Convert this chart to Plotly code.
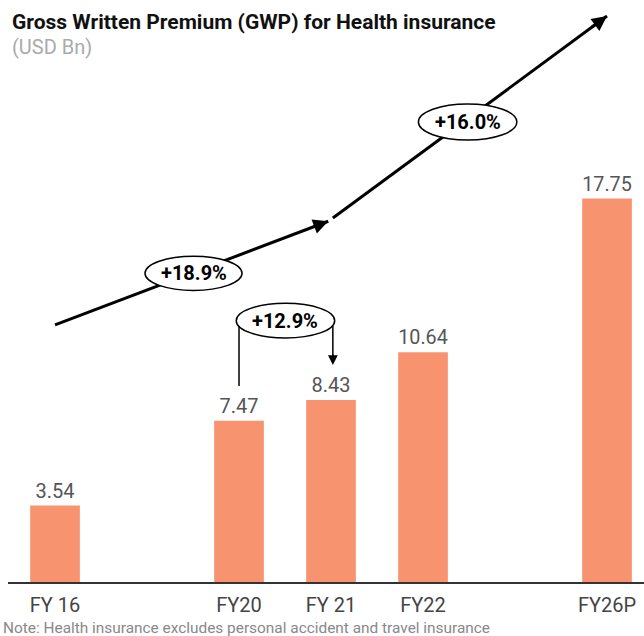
import plotly.graph_objects as go

categories = ["FY 16", "FY20", "FY 21", "FY22", "FY26P"]
slots = [0, 2, 3, 4, 6]
values = [3.54, 7.47, 8.43, 10.64, 17.75]
value_labels = ["3.54", "7.47", "8.43", "10.64", "17.75"]
growth_labels = ["+18.9%", "+12.9%", "+16.0%"]

BAR = "#F8936F"
fig = go.Figure()
fig.add_trace(go.Bar(
    x=slots, y=values, width=0.54, marker=dict(color=BAR, line=dict(width=0)),
    text=value_labels, textposition="outside", cliponaxis=False,
    textfont=dict(family="Roboto", size=20, color="#555555"),
    hoverinfo="skip",
))

shapes = []
ann = []
# trend line segments (data coords)
seg1 = (0.0, 11.9, 2.97, 16.7)
seg2 = (3.02, 16.85, 6.0, 26.2)
for (x0, y0, x1, y1) in (seg1, seg2):
    shapes.append(dict(type="line", xref="x", yref="y", x0=x0, y0=y0, x1=x1, y1=y1,
                       line=dict(color="black", width=3), layer="above"))
    dx, dy = x1 - x0, y1 - y0
    f = 0.06
    ann.append(dict(x=x1, y=y1, ax=x1 - dx * f, ay=y1 - dy * f, xref="x", yref="y",
                    axref="x", ayref="y", showarrow=True, arrowhead=2, arrowsize=1,
                    arrowwidth=3, arrowcolor="black", text=""))

# bracket for FY20 -> FY21
shapes.append(dict(type="line", xref="x", yref="y", x0=2.0, x1=2.0, y0=11.85, y1=9.07,
                   line=dict(color="black", width=1.5), layer="above"))
shapes.append(dict(type="line", xref="x", yref="y", x0=3.02, x1=3.02, y0=11.85, y1=10.4,
                   line=dict(color="black", width=1.5), layer="above"))
ann.append(dict(x=3.02, y=10.05, ax=3.02, ay=10.6, xref="x", yref="y", axref="x", ayref="y",
                showarrow=True, arrowhead=2, arrowsize=1.3, arrowwidth=1.5,
                arrowcolor="black", text=""))

ellipses = [
    (0.978, 2.033, 13.5, 15.08),
    (1.97, 3.04, 11.3, 12.9),
    (3.95, 5.02, 20.46, 22.13),
]
for (x0, x1, y0, y1), lab in zip(ellipses, growth_labels):
    shapes.append(dict(type="circle", xref="x", yref="y", x0=x0, x1=x1, y0=y0, y1=y1,
                       fillcolor="white", line=dict(color="black", width=1.5), layer="above"))
    ann.append(dict(x=(x0 + x1) / 2, y=(y0 + y1) / 2, xref="x", yref="y", text="<b>" + lab + "</b>",
                    showarrow=False, font=dict(family="Roboto", size=20, color="black")))

# titles and note
ann.append(dict(x=0.003, y=0.979, xref="paper", yref="paper", xanchor="left", yanchor="middle",
                text="<b>Gross Written Premium (GWP) for Health insurance</b>", showarrow=False,
                font=dict(family="Roboto", size=21, color="#111111")))
ann.append(dict(x=0.003, y=0.935, xref="paper", yref="paper", xanchor="left", yanchor="middle",
                text="(USD Bn)", showarrow=False,
                font=dict(family="Roboto", size=20, color="#AAAAAA")))
ann.append(dict(x=-0.011, y=-0.0804, xref="paper", yref="paper", xanchor="left", yanchor="middle",
                text="Note: Health insurance excludes personal accident and travel insurance",
                showarrow=False, font=dict(family="Roboto", size=15.4, color="#888888")))

fig.update_layout(
    width=644, height=636, margin=dict(l=8, r=0, t=10, b=54),
    paper_bgcolor="white", plot_bgcolor="white", showlegend=False,
    shapes=shapes, annotations=ann,
    xaxis=dict(range=[-0.511, 6.402], tickvals=slots, ticktext=categories,
               showgrid=False, zeroline=False, showline=True, linecolor="#333333", linewidth=2,
               ticks="", ticklabelstandoff=4,
               tickfont=dict(family="Roboto", size=20, color="#444444")),
    yaxis=dict(range=[0, 26.48], visible=False, showgrid=False, zeroline=False),
)
fig.write_html("out.html", config={"displayModeBar": False},
               post_script="document.body.style.margin='0px';")
